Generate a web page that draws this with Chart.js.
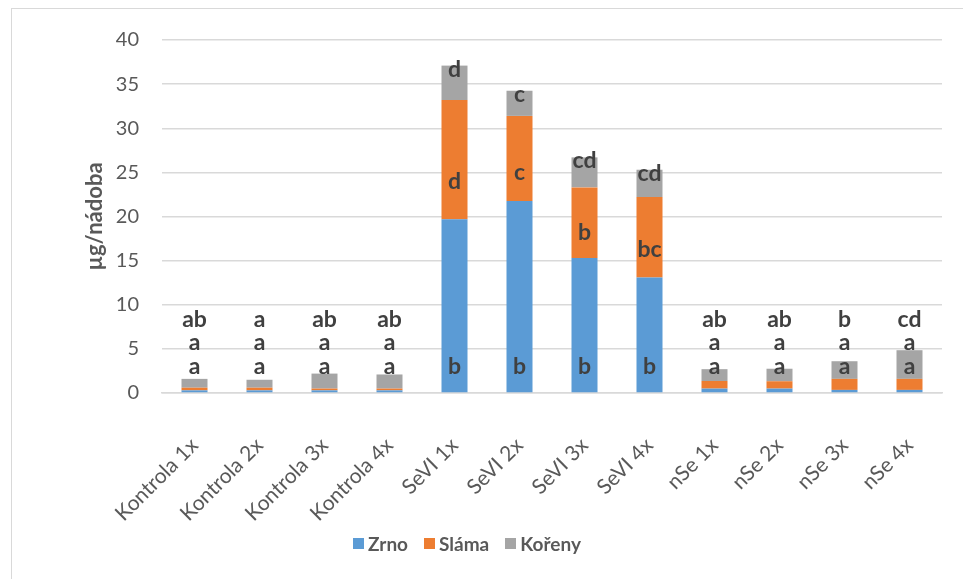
<!DOCTYPE html>
<html>
<head>
<meta charset="utf-8">
<script src="https://cdn.jsdelivr.net/npm/chart.js@4"></script>
<style>
body { margin: 0; background: #fff; }
#wrap { position: relative; width: 963px; height: 579px; overflow: hidden; }
#frame { position: absolute; left: 11px; top: 8px; width: 1000px; height: 1000px;
  border-left: 1.5px solid #d9d9d9; border-top: 1.5px solid #d9d9d9; }
#chart { position: absolute; left: 0; top: 0; }
#legend { position: absolute; left: 0; top: 532px; width: 934px; display: flex; justify-content: center;
  font: bold 19px Lato, sans-serif; color: #595959; }
#legend span.item { display: flex; align-items: center; margin: 0 8px; }
#legend span.box { display: inline-block; width: 11px; height: 11px; margin-right: 4px; }
</style>
</head>
<body>
<div id="wrap">
  <div id="frame"></div>
  <canvas id="chart" width="963" height="579"></canvas>
  <div id="legend"></div>
</div>
<script>
const categories = ['Kontrola 1x', 'Kontrola 2x', 'Kontrola 3x', 'Kontrola 4x',
    'SeVI 1x', 'SeVI 2x', 'SeVI 3x', 'SeVI 4x',
    'nSe 1x', 'nSe 2x', 'nSe 3x', 'nSe 4x'];

const zrno = [0.3, 0.3, 0.3, 0.3, 19.7, 21.75, 15.3, 13.1, 0.5, 0.5, 0.35, 0.35];
const slama = [0.3, 0.3, 0.2, 0.2, 13.5, 9.65, 8.0, 9.1, 0.86, 0.83, 1.25, 1.25];
const koreny = [1.0, 0.9, 1.7, 1.6, 3.9, 2.85, 3.4, 3.1, 1.34, 1.42, 2.0, 3.25];

// significance letters for each part
const zrnoLetters = ['a', 'a', 'a', 'a', 'b', 'b', 'b', 'b', 'a', 'a', 'a', 'a'];
const slamaLetters = ['a', 'a', 'a', 'a', 'd', 'c', 'b', 'bc', 'a', 'a', 'a', 'a'];
const korenyLetters = ['ab', 'a', 'ab', 'ab', 'd', 'c', 'cd', 'cd', 'ab', 'ab', 'b', 'cd'];

const seriesNames = ['Zrno', 'Sláma', 'Kořeny'];
const seriesColors = ['#5B9BD5', '#ED7D31', '#A5A5A5'];
const yMin = 0, yMax = 40, yStep = 5;
const yTitle = 'µg/nádoba';

const seriesValues = [zrno, slama, koreny];

// letters: small bars get them stacked above, tall bars inside the segments
const letterPlugin = {
    id: 'letters',
    afterDatasetsDraw(chart) {
        const ctx = chart.ctx;
        const zero = chart.scales.y.getPixelForValue(0);
        const metas = [0, 1, 2].map(i => chart.getDatasetMeta(i));
        ctx.save();
        ctx.font = 'bold 23px Lato';
        ctx.fillStyle = '#404040';
        ctx.textAlign = 'center';
        ctx.textBaseline = 'alphabetic';
        categories.forEach((c, i) => {
            const x = metas[0].data[i].x;
            const top = metas[2].data[i].y;
            ctx.fillText(zrnoLetters[i], x, zero - 19);
            if (zero - top < 80) {
                ctx.fillText(slamaLetters[i], x, zero - 43);
                ctx.fillText(korenyLetters[i], x, zero - 66);
            } else {
                const s = metas[1].data[i];
                ctx.fillText(slamaLetters[i], x, s.y + 0.75 * (s.base - s.y));
                ctx.fillText(korenyLetters[i], x, top + 11);
            }
        });
        ctx.restore();
    }
};

const datasets = seriesNames.map((name, k) => ({
    label: name,
    data: seriesValues[k],
    backgroundColor: seriesColors[k],
    borderWidth: 0,
    barPercentage: 0.4,
    categoryPercentage: 1.0
}));

new Chart(document.getElementById('chart'), {
    type: 'bar',
    data: { labels: categories, datasets: datasets },
    plugins: [letterPlugin],
    options: {
        responsive: false,
        animation: false,
        layout: { padding: { top: 40, right: 21, left: 70, bottom: 0 } },
        plugins: { legend: { display: false }, tooltip: { enabled: false } },
        scales: {
            x: {
                stacked: true,
                afterFit: s => { s.height = 186; s.paddingLeft = 0; s.paddingRight = 0; },
                grid: { display: false, drawTicks: false },
                border: { color: '#d9d9d9', width: 1.5 },
                ticks: {
                    minRotation: 45, maxRotation: 45, padding: 40,
                    color: '#595959', font: { family: 'Lato', size: 21 }
                }
            },
            y: {
                stacked: true,
                min: yMin, max: yMax,
                afterFit: s => { s.width = 92; },
                grid: { color: '#d9d9d9', lineWidth: 1.5, drawTicks: false },
                border: { display: false },
                ticks: {
                    stepSize: yStep, padding: 23,
                    color: '#595959', font: { family: 'Lato', size: 20 }
                },
                title: {
                    display: true, text: yTitle, color: '#595959',
                    font: { family: 'Lato', size: 22, weight: 'bold' },
                    padding: { top: 12, bottom: 0 }
                }
            }
        }
    }
});

// legend
const legend = document.getElementById('legend');
seriesNames.forEach((name, k) => {
    const item = document.createElement('span');
    item.className = 'item';
    const box = document.createElement('span');
    box.className = 'box';
    box.style.background = seriesColors[k];
    item.appendChild(box);
    item.appendChild(document.createTextNode(name));
    legend.appendChild(item);
});
</script>
</body>
</html>
